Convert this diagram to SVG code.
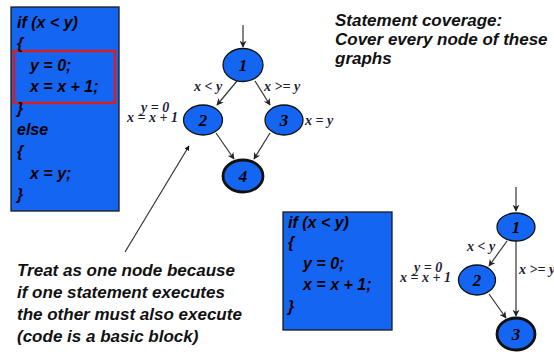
<svg xmlns="http://www.w3.org/2000/svg" width="554" height="354" viewBox="0 0 554 354">
<defs>
<marker id="arr" viewBox="0 0 10 10" refX="9" refY="5" markerWidth="7" markerHeight="7" markerUnits="userSpaceOnUse" orient="auto">
<path d="M0,0 L10,5 L0,10 L3,5 z" fill="#222"/>
</marker>
<marker id="arrs" viewBox="0 0 10 10" refX="9" refY="5" markerWidth="5" markerHeight="5" markerUnits="userSpaceOnUse" orient="auto">
<path d="M0,0 L10,5 L0,10 z" fill="#111"/>
</marker>
</defs>
<style>
.box{fill:#1466F2;stroke:#1a1a1a;stroke-width:1.3}
.code{font-family:"Liberation Sans",Arial,sans-serif;font-weight:bold;font-style:italic;font-size:16px;fill:#000}
.note{font-family:"Liberation Sans",Arial,sans-serif;font-weight:bold;font-style:italic;font-size:17px;fill:#111}
.node{fill:#1466F2;stroke:#111;stroke-width:1.3}
.exit{stroke-width:2.8}
.num{font-family:"Liberation Serif","Times New Roman",serif;font-weight:bold;font-style:italic;font-size:17px;fill:#000;text-anchor:middle}
.lbl{font-family:"Liberation Serif","Times New Roman",serif;font-weight:bold;font-style:italic;font-size:14px;fill:#1e1e38}
.edge{stroke:#333;stroke-width:1.2;fill:none;marker-end:url(#arr)}
</style>

<g id="code1">
<rect class="box" x="11" y="7" width="108" height="204"/>
<rect x="14" y="51" width="101" height="52" fill="none" stroke="#D42020" stroke-width="2.5"/>
<text class="code" x="17" y="28">if (x &lt; y)</text>
<text class="code" x="17" y="49">{</text>
<text class="code" x="30" y="71">y = 0;</text>
<text class="code" x="30" y="92">x = x + 1;</text>
<text class="code" x="17" y="114">}</text>
<text class="code" x="17" y="135">else</text>
<text class="code" x="17" y="157">{</text>
<text class="code" x="30" y="179">x = y;</text>
<text class="code" x="17" y="200">}</text>
</g>

<g id="code2">
<rect class="box" x="283" y="212" width="109" height="118"/>
<text class="code" x="288" y="228">if (x &lt; y)</text>
<text class="code" x="288" y="248">{</text>
<text class="code" x="303" y="269">y = 0;</text>
<text class="code" x="303" y="290">x = x + 1;</text>
<text class="code" x="288" y="312">}</text>
</g>

<g id="note1">
<text class="note" x="335" y="26">Statement coverage:</text>
<text class="note" x="335" y="45">Cover every node of these</text>
<text class="note" x="335" y="64">graphs</text>
</g>

<g id="note2">
<text class="note" x="17" y="276">Treat as one node because</text>
<text class="note" x="17" y="298">if one statement  executes</text>
<text class="note" x="17" y="320">the other must also execute</text>
<text class="note" x="17" y="342">(code is a basic block)</text>
</g>

<g id="connectors">
<line class="edge" x1="243" y1="25" x2="243" y2="47"/>
<line class="edge" x1="237" y1="81" x2="217" y2="105"/>
<line class="edge" x1="255" y1="81" x2="270" y2="105"/>
<line class="edge" x1="216" y1="133" x2="234" y2="159"/>
<line class="edge" x1="270" y1="133" x2="254" y2="159"/>
<line x1="125" y1="252" x2="189" y2="146" stroke="#333" stroke-width="1.2" marker-end="url(#arrs)"/>
<line class="edge" x1="516" y1="187" x2="516" y2="211"/>
<line class="edge" x1="507" y1="241" x2="489" y2="266"/>
<line class="edge" x1="516" y1="241" x2="516" y2="316"/>
<line class="edge" x1="489" y1="294" x2="506" y2="318"/>
</g>

<g id="g1n1"><ellipse class="node" cx="243" cy="65" rx="20" ry="16.5"/><text class="num" x="243" y="71">1</text></g>
<g id="g1n2"><ellipse class="node" cx="203" cy="120" rx="19.5" ry="15"/><text class="num" x="203" y="126">2</text></g>
<g id="g1n3"><ellipse class="node" cx="284" cy="120" rx="19" ry="15"/><text class="num" x="284" y="126">3</text></g>
<g id="g1n4"><ellipse class="node exit" cx="243" cy="176" rx="20" ry="16"/><text class="num" x="243" y="182">4</text></g>

<g id="g1labels">
<text class="lbl" x="194" y="91">x &lt; y</text>
<text class="lbl" x="264" y="91">x &gt;= y</text>
<text class="lbl" x="305" y="125">x = y</text>
<text class="lbl" x="141" y="112">y = 0</text>
<text class="lbl" x="127" y="122">x = x + 1</text>
</g>

<g id="g2n1"><ellipse class="node" cx="516" cy="227" rx="19" ry="14"/><text class="num" x="516" y="233">1</text></g>
<g id="g2n2"><ellipse class="node" cx="477" cy="280" rx="18.5" ry="15"/><text class="num" x="477" y="286">2</text></g>
<g id="g2n3"><ellipse class="node exit" cx="516" cy="334" rx="19" ry="16"/><text class="num" x="516" y="340">3</text></g>

<g id="g2labels">
<text class="lbl" x="467" y="251">x &lt; y</text>
<text class="lbl" x="519" y="274">x &gt;= y</text>
<text class="lbl" x="414" y="272">y = 0</text>
<text class="lbl" x="400" y="282">x = x + 1</text>
</g>
</svg>
